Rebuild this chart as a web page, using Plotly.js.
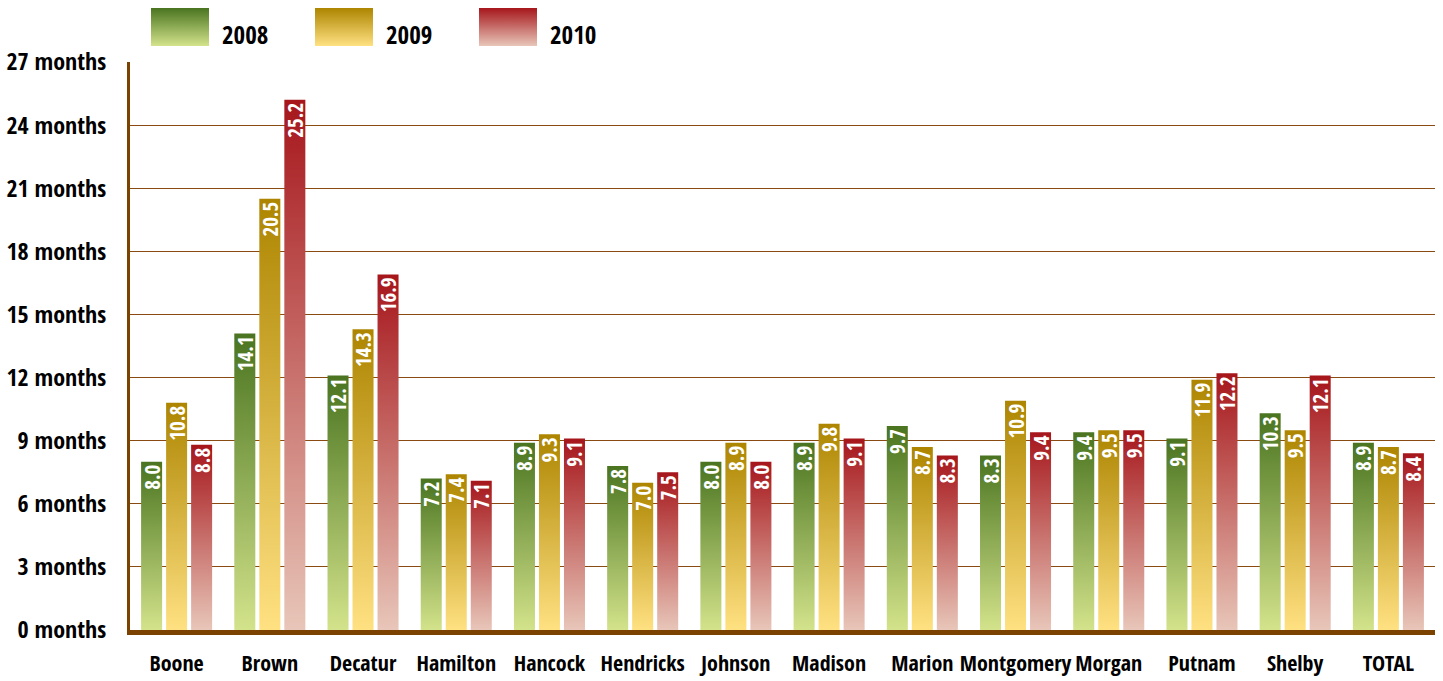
<!DOCTYPE html>
<html>
<head>
<meta charset="utf-8">
<script src="https://cdn.plot.ly/plotly-3.0.1.min.js"></script>
<style>
  html, body { margin: 0; padding: 0; background: #ffffff; }
  #chart { width: 1443px; height: 681px; }
</style>
</head>
<body>
<div id="chart"></div>
<script>
// ---- Data ----
const categories = ["Boone", "Brown", "Decatur", "Hamilton", "Hancock", "Hendricks", "Johnson",
                    "Madison", "Marion", "Montgomery", "Morgan", "Putnam", "Shelby", "TOTAL"];
const years = ["2008", "2009", "2010"];
const values2008 = [8.0, 14.1, 12.1, 7.2, 8.9, 7.8, 8.0, 8.9, 9.7, 8.3, 9.4, 9.1, 10.3, 8.9];
const values2009 = [10.8, 20.5, 14.3, 7.4, 9.3, 7.0, 8.9, 9.8, 8.7, 10.9, 9.5, 11.9, 9.5, 8.7];
const values2010 = [8.8, 25.2, 16.9, 7.1, 9.1, 7.5, 8.0, 9.1, 8.3, 9.4, 9.5, 12.2, 12.1, 8.4];
const yTickValues = [0, 3, 6, 9, 12, 15, 18, 21, 24, 27];

// ---- Styling ----
const gradients = [
  { top: "#4a7420", bottom: "#d3e38b" },
  { top: "#ad8500", bottom: "#ffe182" },
  { top: "#a6161b", bottom: "#e8c6b9" }
];
const FONT = "'Open Sans Condensed', 'Open Sans', sans-serif";
const W = 1443, H = 681;
const M = { l: 130, r: 8, t: 62, b: 51 };
const PW = W - M.l - M.r, PH = H - M.t - M.b;
const px2x = p => (p - M.l) / PW;
const px2y = p => (H - M.b - p) / PH;

const series = [values2008, values2009, values2010];
const traces = series.map((vals, i) => ({
  type: "bar",
  name: years[i],
  x: categories,
  y: vals,
  marker: { color: gradients[i].top, line: { width: 0 } },
  text: vals.map(v => v.toFixed(1)),
  textposition: "inside",
  insidetextanchor: "end",
  textangle: -90,
  constraintext: "none",
  insidetextfont: { family: FONT, size: 21, color: "#ffffff", weight: 500 },
  hoverinfo: "skip",
  showlegend: false
}));

// Legend built from shapes + annotations
const legendX = [151, 315, 479];
const shapes = [], annotations = [];
years.forEach((yr, i) => {
  shapes.push({
    type: "rect", xref: "paper", yref: "paper", layer: "above",
    x0: px2x(legendX[i]), x1: px2x(legendX[i] + 58),
    y0: px2y(46), y1: px2y(8),
    fillcolor: gradients[i].top, line: { width: 0 }
  });
  annotations.push({
    xref: "paper", yref: "paper",
    x: px2x(legendX[i] + 69), y: px2y(34),
    xanchor: "left", yanchor: "middle",
    text: yr, showarrow: false,
    font: { family: FONT, size: 25, color: "#000000", weight: "bold" }
  });
});

const layout = {
  width: W, height: H,
  margin: M,
  paper_bgcolor: "#ffffff",
  plot_bgcolor: "#ffffff",
  barmode: "group",
  bargap: 0.195,
  bargroupgap: 0.16,
  font: { family: FONT, color: "#000000", weight: "bold" },
  xaxis: {
    type: "category",
    showgrid: false,
    showline: true, linecolor: "#7b4200", linewidth: 5,
    ticks: "",
    tickangle: 0,
    tickfont: { family: FONT, size: 22, color: "#000000", weight: "bold" },
    ticklabelstandoff: 10,
    fixedrange: true
  },
  yaxis: {
    range: [0, 27],
    tickvals: yTickValues,
    ticktext: yTickValues.map(v => v + " months"),
    showgrid: true, gridcolor: "#8a4b12", gridwidth: 1,
    zeroline: false,
    showline: true, linecolor: "#7b4200", linewidth: 3,
    ticks: "",
    tickfont: { family: FONT, size: 24, color: "#000000", weight: "bold" },
    ticklabelstandoff: 16,
    fixedrange: true
  },
  shapes: shapes,
  annotations: annotations,
  showlegend: false
};

function applyGradients(gd) {
  const svg = gd.querySelector("svg.main-svg");
  if (!svg) return;
  const NS = "http://www.w3.org/2000/svg";
  let defs = svg.querySelector("defs#customgrad");
  if (!defs) {
    defs = document.createElementNS(NS, "defs");
    defs.setAttribute("id", "customgrad");
    gradients.forEach((g, i) => {
      const lg = document.createElementNS(NS, "linearGradient");
      lg.setAttribute("id", "grad" + i);
      lg.setAttribute("x1", "0"); lg.setAttribute("y1", "0");
      lg.setAttribute("x2", "0"); lg.setAttribute("y2", "1");
      [[0, g.top], [1, g.bottom]].forEach(([o, c]) => {
        const s = document.createElementNS(NS, "stop");
        s.setAttribute("offset", o);
        s.setAttribute("stop-color", c);
        lg.appendChild(s);
      });
      defs.appendChild(lg);
    });
    svg.insertBefore(defs, svg.firstChild);
  }
  gd.querySelectorAll(".barlayer .trace").forEach((tr, i) => {
    tr.querySelectorAll(".point path").forEach(p => {
      p.style.fill = "url(#grad" + i + ")";
      p.style.fillOpacity = 1;
    });
  });
  gd.querySelectorAll(".layer-above .shapelayer path").forEach((p, i) => {
    p.style.fill = "url(#grad" + (i % 3) + ")";
    p.style.fillOpacity = 1;
  });
}

const gd = document.getElementById("chart");
Plotly.newPlot(gd, traces, layout, { displayModeBar: false, staticPlot: true }).then(() => {
  applyGradients(gd);
  gd.on("plotly_afterplot", () => applyGradients(gd));
});
</script>
</body>
</html>
